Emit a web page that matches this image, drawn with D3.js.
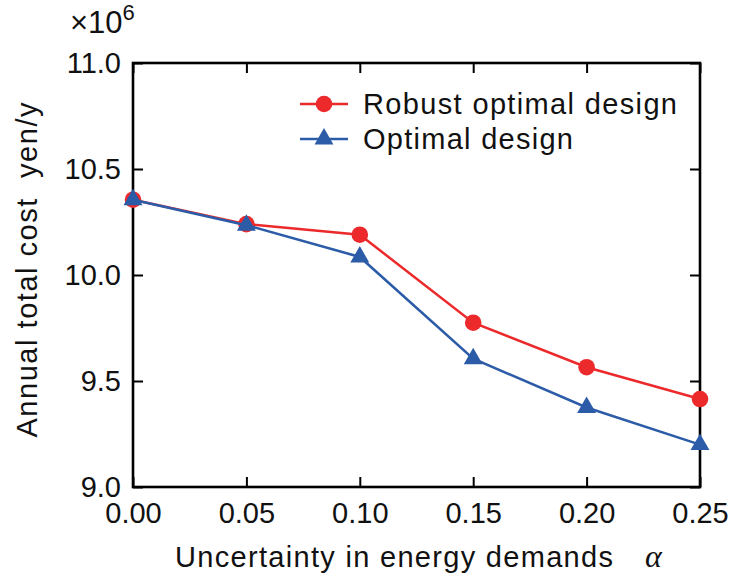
<!DOCTYPE html>
<html>
<head>
<meta charset="utf-8">
<script src="https://cdn.jsdelivr.net/npm/d3@7"></script>
<style>
  html, body { margin: 0; padding: 0; background: #fff; }
  svg text { font-family: "Liberation Sans", Arial, Helvetica, sans-serif; fill: #111; }
</style>
</head>
<body>
<svg id="chart" width="736" height="581"></svg>
<script>
// Uncertainty levels (alpha) on the x axis
const alphas = [0.00, 0.05, 0.10, 0.15, 0.20, 0.25];
// Annual total cost, in units of 10^6 yen/y
const robustCost  = [10.355, 10.24, 10.19, 9.775, 9.565, 9.415];
const optimalCost = [10.355, 10.235, 10.085, 9.605, 9.375, 9.200];
const xTicks = [0.00, 0.05, 0.10, 0.15, 0.20, 0.25];
const yTicks = [9.0, 9.5, 10.0, 10.5, 11.0];
const seriesNames = ["Robust optimal design", "Optimal design"];

const svg = d3.select("#chart");
const plotLeft = 133, plotRight = 700, plotTop = 63, plotBottom = 487;
const fontSize = 29;

const x = d3.scaleLinear().domain([0, 0.25]).range([plotLeft, plotRight]);
const y = d3.scaleLinear().domain([9.0, 11.0]).range([plotBottom, plotTop]);

const tickLen = 10;
const axisColor = "#000";

// Axes: ticks point inward on all four sides
const gx = svg.append("g").attr("transform", `translate(0,${plotBottom})`)
  .call(d3.axisBottom(x).tickValues(xTicks).tickFormat(d3.format(".2f")).tickSizeInner(-tickLen).tickSizeOuter(0).tickPadding(15));
const gxTop = svg.append("g").attr("transform", `translate(0,${plotTop})`)
  .call(d3.axisTop(x).tickValues(xTicks).tickFormat("").tickSizeInner(-tickLen).tickSizeOuter(0));
const gy = svg.append("g").attr("transform", `translate(${plotLeft},0)`)
  .call(d3.axisLeft(y).tickValues(yTicks).tickFormat(d3.format(".1f")).tickSizeInner(-tickLen).tickSizeOuter(0).tickPadding(12));
const gyRight = svg.append("g").attr("transform", `translate(${plotRight},0)`)
  .call(d3.axisRight(y).tickValues(yTicks).tickFormat("").tickSizeInner(-tickLen).tickSizeOuter(0));

[gx, gxTop, gy, gyRight].forEach(g => {
  g.select(".domain").remove();
  g.selectAll(".tick line").attr("stroke", axisColor).attr("stroke-width", 2);
  g.selectAll(".tick text").attr("font-size", fontSize).attr("fill", "#111")
    .attr("font-family", "'Liberation Sans', Arial, sans-serif");
});
gy.selectAll(".tick text").attr("dy", "0.34em");

// Frame around the plotting area
svg.append("rect")
  .attr("x", plotLeft).attr("y", plotTop)
  .attr("width", plotRight - plotLeft).attr("height", plotBottom - plotTop)
  .attr("fill", "none").attr("stroke", axisColor).attr("stroke-width", 2.6);

const red = "#ec2a2c", blue = "#2c5ca8";
const line = d3.line().x((d, i) => x(alphas[i])).y(d => y(d));

// Robust optimal design series
svg.append("path").datum(robustCost).attr("d", line)
  .attr("fill", "none").attr("stroke", red).attr("stroke-width", 2.5);
svg.selectAll(".robust").data(robustCost).enter().append("circle")
  .attr("class", "robust")
  .attr("cx", (d, i) => x(alphas[i])).attr("cy", d => y(d))
  .attr("r", 8.3).attr("fill", red);

// Optimal design series
svg.append("path").datum(optimalCost).attr("d", line)
  .attr("fill", "none").attr("stroke", blue).attr("stroke-width", 2.5);
const tri = d3.symbol().type(d3.symbolTriangle).size(155);
svg.selectAll(".optimal").data(optimalCost).enter().append("path")
  .attr("class", "optimal")
  .attr("d", tri)
  .attr("transform", (d, i) => `translate(${x(alphas[i])},${y(d)})`)
  .attr("fill", blue);

// Legend
const legend = svg.append("g");
const legendRows = [
  { name: seriesNames[0], color: red, shape: "circle", y: 104, len: 314 },
  { name: seriesNames[1], color: blue, shape: "triangle", y: 139, len: 210 }
];
legendRows.forEach(r => {
  legend.append("line").attr("x1", 300).attr("x2", 348).attr("y1", r.y).attr("y2", r.y)
    .attr("stroke", r.color).attr("stroke-width", 2.5);
  if (r.shape === "circle") {
    legend.append("circle").attr("cx", 324).attr("cy", r.y).attr("r", 8.3).attr("fill", r.color);
  } else {
    legend.append("path").attr("d", tri).attr("transform", `translate(324,${r.y})`).attr("fill", r.color);
  }
  legend.append("text").attr("x", 363).attr("y", r.y).attr("dy", "0.35em")
    .attr("font-size", fontSize)
    .attr("textLength", r.len).attr("lengthAdjust", "spacing")
    .text(r.name);
});

// Axis titles
svg.append("text").attr("x", 175).attr("y", 567).attr("font-size", fontSize)
  .attr("textLength", 438).attr("lengthAdjust", "spacing")
  .text("Uncertainty in energy demands");
svg.append("text").attr("x", 645).attr("y", 567)
  .attr("font-size", 32).attr("font-style", "italic")
  .style("font-family", "'Liberation Serif', 'DejaVu Serif', serif")
  .text("α");

svg.append("text")
  .attr("transform", "translate(37,270) rotate(-90)")
  .attr("text-anchor", "middle").attr("font-size", fontSize)
  .attr("textLength", 335).attr("lengthAdjust", "spacing")
  .style("white-space", "pre")
  .text("Annual total cost  yen/y");

// Scale factor of the y axis
const mult = svg.append("text").attr("x", 70).attr("y", 33).attr("font-size", 31);
mult.append("tspan").text("×10");
mult.append("tspan").attr("font-size", 22).attr("dy", -13).text("6");
</script>
</body>
</html>
